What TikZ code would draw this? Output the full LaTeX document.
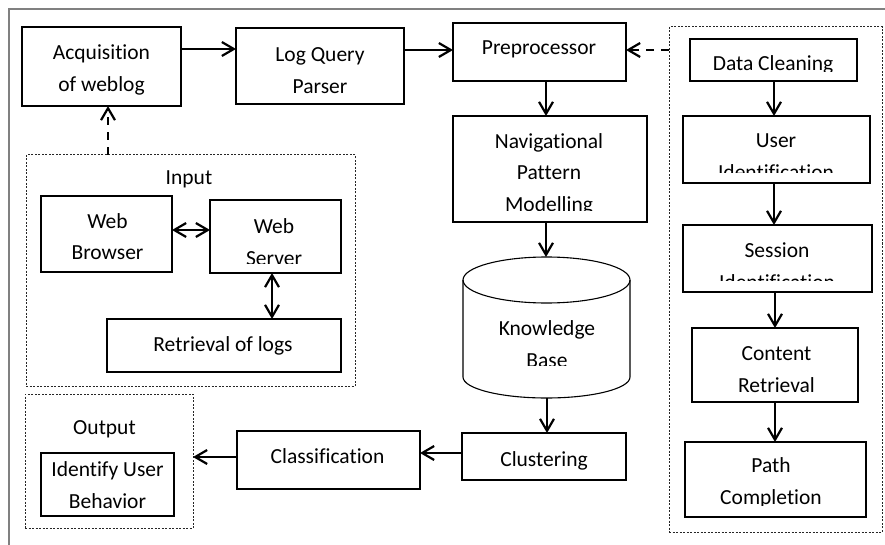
\documentclass[tikz,border=0pt]{standalone}
\usepackage{fontspec}
\setmainfont{Carlito}[Ligatures=NoCommon]
\usetikzlibrary{arrows.meta}

\tikzset{
  box/.style={draw=black, line width=1.1pt, inner sep=0pt, outer sep=0pt},
  group/.style={draw=black!85, line width=1pt, dash pattern=on 2pt off 1.5pt, inner sep=0pt, outer sep=0pt},
  txt/.style={font=\fontsize{21.5}{31.5}\selectfont, align=center, inner sep=0pt},
  arr/.style={line width=2.2pt, -{Straight Barb[length=12pt,width=14pt,line width=2.2pt]}},
  dbl/.style={line width=2.2pt, {Straight Barb[length=12pt,width=14pt,line width=2.2pt]}-{Straight Barb[length=12pt,width=14pt,line width=2.2pt]}},
  darr/.style={arr, dash pattern=on 8pt off 7pt},
  frame/.style={draw=black!50, line width=1.5pt}
}

\begin{document}
\begin{tikzpicture}[x=1pt, y=-1pt]
\useasboundingbox (0,0) rectangle (885,545);

% outer frame edges
\draw[frame] (9,545) -- (9,9) -- (885,9);

% group frames
\node[group, minimum width=329pt, minimum height=231pt] (ingrp) at (190.5,270.5) {};
\node[group, minimum width=168pt, minimum height=134pt] (outgrp) at (109,461) {};
\node[group, minimum width=213pt, minimum height=505pt] (prepgrp) at (775.5,279.5) {};

% main pipeline boxes
\node[box, minimum width=159pt, minimum height=79pt] (acq) at (101.5,66.5) {};
\node[box, minimum width=168pt, minimum height=76pt] (lqp) at (320,66) {};
\node[box, minimum width=173pt, minimum height=58pt] (pre) at (539.5,52) {};
\node[box, minimum width=194pt, minimum height=106pt] (nav) at (550,169) {};
\node[box, minimum width=164pt, minimum height=47pt] (clu) at (544,456.5) {};
\node[box, minimum width=183pt, minimum height=58pt] (cla) at (328.5,460) {};
\node[box, minimum width=133pt, minimum height=63pt] (iub) at (107.5,484.5) {};

% input group boxes
\node[box, minimum width=131pt, minimum height=76pt] (wb) at (106.5,234) {};
\node[box, minimum width=131pt, minimum height=73pt] (ws) at (275.5,236.5) {};
\node[box, minimum width=234pt, minimum height=53pt] (rl) at (224,345.5) {};

% preprocessing steps
\node[box, minimum width=167pt, minimum height=42pt] (dc) at (773.5,60) {};
\node[box, minimum width=187pt, minimum height=67pt] (ui) at (776.5,149.5) {};
\node[box, minimum width=189pt, minimum height=67pt] (si) at (777.5,258.5) {};
\node[box, minimum width=166pt, minimum height=74pt] (cr) at (775,365) {};
\node[box, minimum width=181pt, minimum height=75pt] (pc) at (775.5,479.5) {};

% knowledge base cylinder
\node[inner sep=0pt, outer sep=0pt, minimum width=167pt, minimum height=141pt] (kb) at (546.5,327.5) {};
\draw[line width=1.1pt] (546.5,280) ellipse [x radius=83.5pt, y radius=23pt];
\draw[line width=1.1pt] (463,280) -- (463,377)
  arc[start angle=180, end angle=360, x radius=83.5pt, y radius=21pt] -- (630,280);

% labels
\node[txt] (acqt) at (101.5,69.4) {\strut Acquisition\\of weblog\strut};
\node[txt] (lqpt) at (320,71.4) {\strut Log Query\\Parser\strut};
\node[txt] (pret) at (539,48.7) {\strut Preprocessor\strut};
\node[txt] (clut) at (544,459.7) {\strut Clustering\strut};
\node[txt] (clat) at (327.5,456.7) {\strut Classification\strut};
\node[txt] (outt) at (104.5,427.7) {\strut Output\strut};
\node[txt] (iubt) at (107.5,486.4) {\strut Identify User\\Behavior\strut};
\node[txt] (int) at (189,178.2) {\strut Input\strut};
\node[txt] (wbt) at (107.5,237.9) {\strut Web\\Browser\strut};
\node[txt] (rlt) at (223,344.7) {\strut Retrieval of logs\strut};
\node[txt] (crt) at (776.5,370.4) {\strut Content\\Retrieval\strut};

% labels cut off by the lower edge of their text area
\begin{scope}
  \clip (690,39) rectangle (857,72);
  \node[txt] (dct) at (773,64.7) {\strut Data Cleaning\strut};
\end{scope}
\begin{scope}
  \clip (683,116) rectangle (870,173);
  \node[txt] (uit) at (776,157) {\strut User\\Identification\strut};
\end{scope}
\begin{scope}
  \clip (683,225) rectangle (872,280);
  \node[txt] (sit) at (777,267.4) {\strut Session\\Identification\strut};
\end{scope}
\begin{scope}
  \clip (685,442) rectangle (866,505);
  \node[txt] (pct) at (771,482.4) {\strut Path\\Completion\strut};
\end{scope}
\begin{scope}
  \clip (453,116) rectangle (647,211);
  \node[txt] (navt) at (549,173.7) {\strut Navigational\\Pattern\\Modelling\strut};
\end{scope}
\begin{scope}
  \clip (464,304) rectangle (629,365);
  \node[txt] (kbt) at (547,345.4) {\strut Knowledge\\Base\strut};
\end{scope}
\begin{scope}
  \clip (210,200) rectangle (341,263);
  \node[txt] (wst) at (274,243.4) {\strut Web\\Server\strut};
\end{scope}

% connectors
\draw[arr] (acq.east |- 0,49) -- (lqp.west |- 0,49);
\draw[arr] (lqp.east |- 0,50) -- (pre.west |- 0,50);
\draw[darr] (prepgrp.west |- 0,50) -- (pre.east |- 0,50);
\draw[darr] (ingrp.north -| 108,0) -- (acq.south -| 108,0);
\draw[dbl] (wb.east |- 0,230) -- (ws.west |- 0,230);
\draw[dbl] (ws.south -| 272,0) -- (rl.north -| 272,0);
\draw[arr] (pre.south -| 546,0) -- (nav.north -| 546,0);
\draw[arr] (nav.south -| 546,0) -- (kb.north -| 546,0);
\draw[arr] (kb.south -| 547,0) -- (clu.north -| 547,0);
\draw[arr] (clu.west |- 0,453) -- (cla.east |- 0,453);
\draw[arr] (cla.west |- 0,457) -- (outgrp.east |- 0,457);
\draw[arr] (dc.south -| 774,0) -- (ui.north -| 774,0);
\draw[arr] (ui.south -| 774,0) -- (si.north -| 774,0);
\draw[arr] (si.south -| 775,0) -- (cr.north -| 775,0);
\draw[arr] (cr.south -| 775,0) -- (pc.north -| 775,0);
\end{tikzpicture}
\end{document}
